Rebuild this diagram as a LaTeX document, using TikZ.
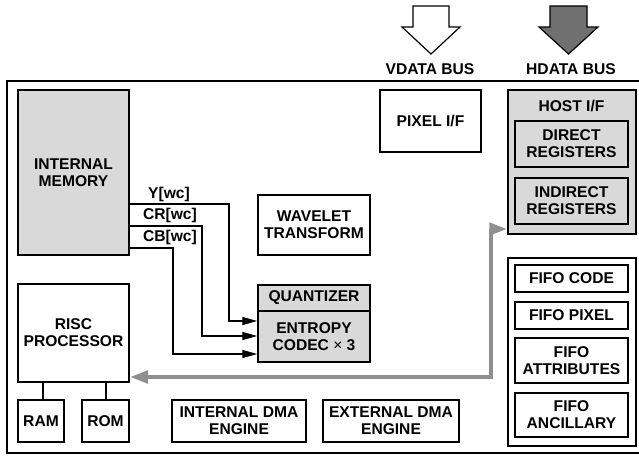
\documentclass[tikz,border=0pt]{standalone}
\usepackage{fontspec}
\setmainfont{Liberation Sans}
\usetikzlibrary{arrows.meta,calc}
\definecolor{boxgray}{gray}{0.85}
\definecolor{busgray}{gray}{0.56}
\definecolor{hostarrow}{gray}{0.44}
\begin{document}
\begin{tikzpicture}[x=1pt,y=-1pt,
  lbl/.style={font=\bfseries\fontsize{15.6}{17}\selectfont, align=center, inner sep=0pt},
  blk/.style={lbl, draw=black, line width=1.5pt},
  gblk/.style={blk, fill=boxgray},
  sig/.style={draw=black, line width=1.4pt, -{Triangle[length=15pt,width=8pt]}},
  bus/.style={draw=busgray, line width=4.5pt,
    {Triangle[length=18pt,width=12pt]}-{Triangle[length=18pt,width=12pt]}},
  link/.style={draw=black, line width=2pt},
  busarrow/.style={draw=black, line width=1.2pt, line join=miter}]
\useasboundingbox (0,0) rectangle (639,455);
\clip (0,0) rectangle (639,455);

% external data buses entering from the top
\draw[busarrow, fill=white]
  (413,6) -- (449,6) -- (449,27) -- (460,27) -- (431,54) -- (402,27) -- (413,27) -- cycle;
\draw[busarrow, fill=hostarrow]
  (550,6) -- (587,6) -- (587,27) -- (598,27) -- (568.5,54) -- (539,27) -- (550,27) -- cycle;
\node[lbl] (vbus) at (430,69) {VDATA BUS};
\node[lbl] (hbus) at (571,69) {HDATA BUS};

% chip outline
\draw[line width=2pt] (7,81) rectangle (645,453);

% blocks
\node[gblk, minimum width=111, minimum height=165] (mem) at (73.5,172.5) {INTERNAL\\MEMORY};
\node[blk, minimum width=101, minimum height=62] (pixel) at (430.5,121) {PIXEL I/F};
\node[gblk, minimum width=128, minimum height=144] (host) at (572,162) {};
\node[lbl] (hosttitle) at (571.5,106) {HOST I/F};
\node[gblk, minimum width=113, minimum height=46] (direct) at (571.5,144) {DIRECT\\REGISTERS};
\node[gblk, minimum width=113, minimum height=46] (indirect) at (571.5,201) {INDIRECT\\REGISTERS};
\node[blk, minimum width=112, minimum height=60] (wavelet) at (314,225) {WAVELET\\TRANSFORM};
\node[gblk, minimum width=112, minimum height=26] (quant) at (314,298) {QUANTIZER};
\node[gblk, minimum width=112, minimum height=51] (entropy) at (314,336.5) {ENTROPY\\CODEC {\mdseries ×} 3};
\node[blk, minimum width=111, minimum height=98] (risc) at (73.5,333) {RISC\\PROCESSOR};
\node[blk, minimum width=46, minimum height=42] (ram) at (41,421) {RAM};
\node[blk, minimum width=47, minimum height=42] (rom) at (105.5,421) {ROM};
\node[blk, minimum width=134, minimum height=42] (idma) at (239,421) {INTERNAL DMA\\ENGINE};
\node[blk, minimum width=136, minimum height=42] (edma) at (391,421) {EXTERNAL DMA\\ENGINE};
\node[blk, minimum width=128, minimum height=188] (fifos) at (572,352) {};
\node[blk, minimum width=113, minimum height=27] (fcode) at (571.5,278.5) {FIFO CODE};
\node[blk, minimum width=113, minimum height=27] (fpixel) at (571.5,315.5) {FIFO PIXEL};
\node[blk, minimum width=113, minimum height=45] (fattr) at (571.5,360.5) {FIFO\\ATTRIBUTES};
\node[blk, minimum width=113, minimum height=44] (fanc) at (571.5,415) {FIFO\\ANCILLARY};

% memory to entropy codec channels
\coordinate (ybend) at (229,321);
\coordinate (crbend) at (202,336);
\coordinate (cbbend) at (173,354);
\draw[sig] (mem.east |- 0,204) -| (ybend) -- (entropy.west |- ybend);
\draw[sig] (mem.east |- 0,226) -| (crbend) -- (entropy.west |- crbend);
\draw[sig] (mem.east |- 0,248) -| (cbbend) -- (entropy.west |- cbbend);
\node[lbl] (ylbl) at (169,194) {Y[wc]};
\node[lbl] (crlbl) at (170,215.5) {CR[wc]};
\node[lbl] (cblbl) at (170,237.5) {CB[wc]};

% processor memories
\draw[link] (risc.south -| 43,0) -- (ram.north -| 43,0);
\draw[link] (risc.south -| 106,0) -- (rom.north -| 106,0);

% host bus between RISC and host interface
\coordinate (busl) at (491,377);
\coordinate (busu) at (491,229);
\draw[bus] (risc.east |- busl) -- (busl) -- (busu) -- (host.west |- busu);
\end{tikzpicture}
\end{document}
